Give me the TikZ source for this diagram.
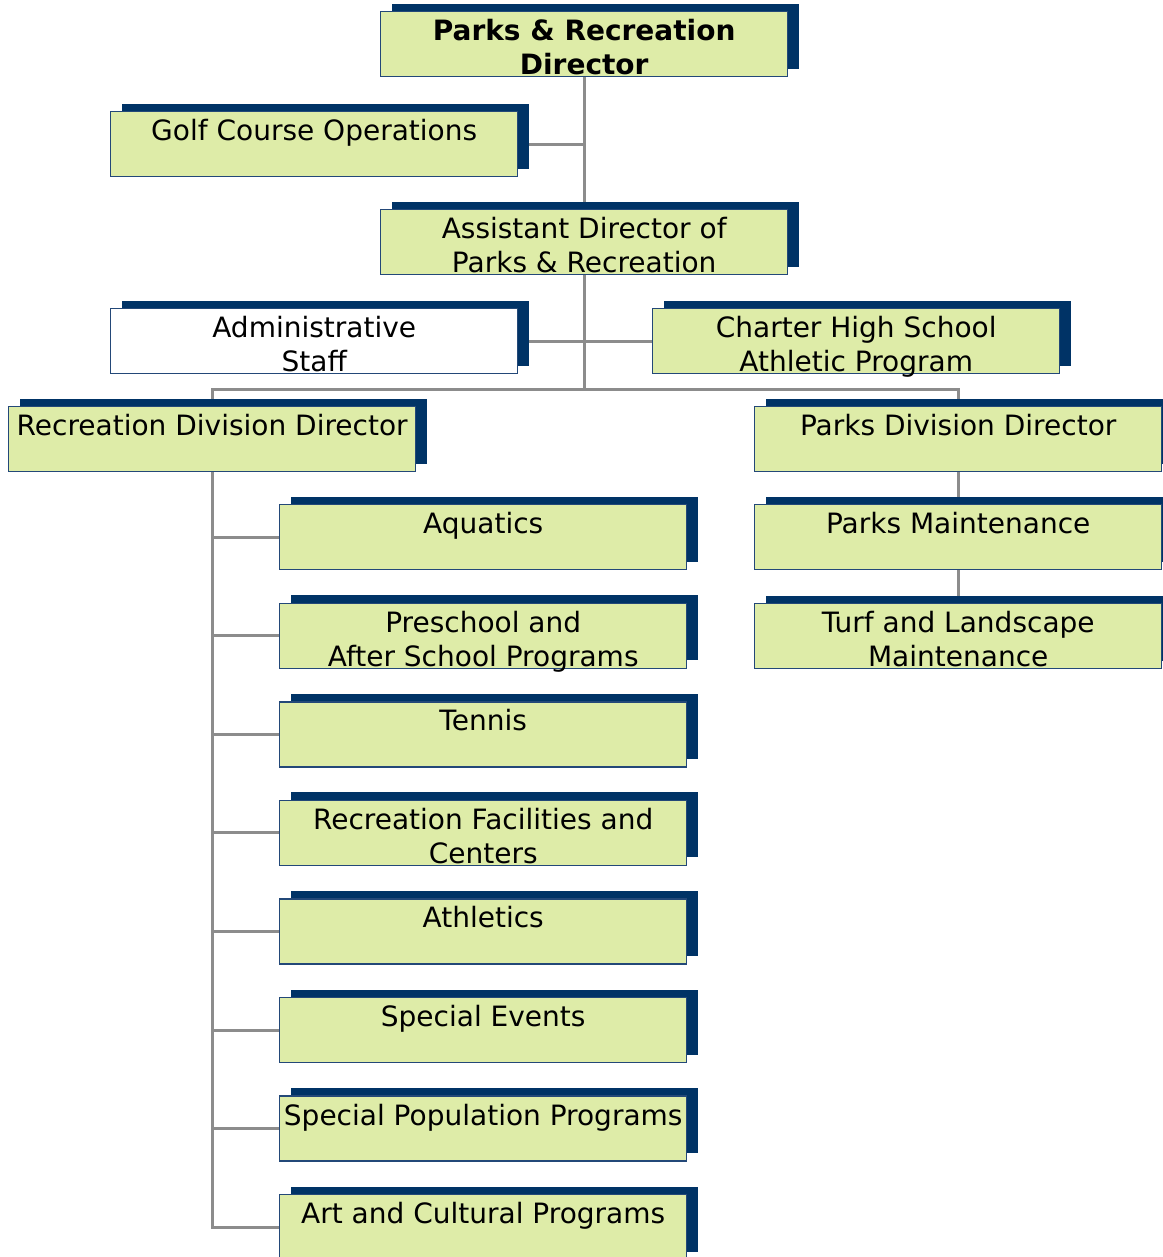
\documentclass[tikz,border=0pt]{standalone}
\usepackage{fontspec}
\setmainfont{DejaVu Sans}
\usetikzlibrary{shadows,backgrounds}

\definecolor{shadowblue}{RGB}{0,51,102}
\definecolor{boxline}{RGB}{35,72,120}
\definecolor{boxfill}{RGB}{222,236,168}
\definecolor{linkgray}{RGB}{140,140,140}

\tikzset{
  orgbox/.style={anchor=north west, draw=boxline, line width=1.4pt, fill=boxfill, inner sep=0pt,
    drop shadow={shadow xshift=11pt, shadow yshift=8pt, fill=shadowblue, opacity=1}},
  plainbox/.style={orgbox, fill=white},
  link/.style={draw=linkgray, line width=3pt},
}
\newcommand{\boxtext}[1]{\parbox[c][65pt][t]{407pt}{\centering\fontsize{28}{34}\selectfont\rule{0pt}{29pt}#1}}

\begin{document}
\begin{tikzpicture}[x=1pt,y=-1pt]
\useasboundingbox (0,0) rectangle (1162,1257);

%Shape: top of the chart
\node[orgbox] (dir) at (380,11) {\boxtext{\bfseries Parks \& Recreation\\Director}};
\node[orgbox] (golf) at (110,111) {\boxtext{Golf Course Operations}};
\node[orgbox] (asst) at (380,209) {\boxtext{Assistant Director of\\Parks \& Recreation}};
\node[plainbox] (admin) at (110,308) {\boxtext{Administrative\\Staff}};
\node[orgbox] (charter) at (652,308) {\boxtext{Charter High School\\Athletic Program}};

%Shape: divisions
\node[orgbox] (recdir) at (8,406) {\boxtext{Recreation Division Director}};
\node[orgbox] (parksdir) at (754,406) {\boxtext{Parks Division Director}};
\node[orgbox] (maint) at (754,504) {\boxtext{Parks Maintenance}};
\node[orgbox] (turf) at (754,603) {\boxtext{Turf and Landscape\\Maintenance}};

%Shape: recreation programs
\foreach \txt [count=\i from 0] in {Aquatics, {Preschool and\\After School Programs}, Tennis,
    {Recreation Facilities and\\Centers}, Athletics, Special Events,
    Special Population Programs, Art and Cultural Programs}
  \node[orgbox] (rec\i) at (279,{504+98.57*\i}) {\boxtext{\txt}};

\coordinate (split) at (asst.south |- 0,389);

%Straight Lines
\begin{scope}[on background layer]
\draw[link] (dir.south) -- (asst.north);
\draw[link] (golf.east) -- (golf.east -| dir.south);
\draw[link] (asst.south) -- (split);
\draw[link] (admin.east) -- (charter.west);
\draw[link] (recdir.north) |- (split) -| (parksdir.north);
\draw[link] (parksdir.south) -- (maint.north);
\draw[link] (maint.south) -- (turf.north);
\foreach \i in {0,...,7}
  \draw[link] (recdir.south) |- (rec\i.west);
\end{scope}

\end{tikzpicture}
\end{document}
